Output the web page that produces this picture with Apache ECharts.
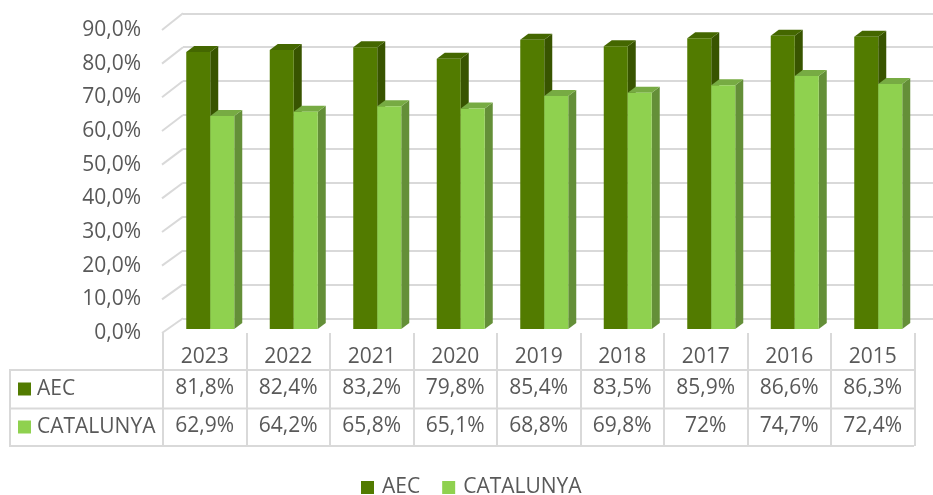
<!DOCTYPE html>
<html>
<head>
<meta charset="UTF-8"/>
<title>AEC - CATALUNYA</title>
<style>
    html, body { margin: 0; padding: 0; background: #fff; }
    #chart { width: 933px; height: 495px; }
</style>
</head>
<body>
<div id="chart"></div>
<script src="https://cdn.jsdelivr.net/npm/echarts@6/dist/echarts.min.js"></script>
<script>
    // data
    const years = ['2023', '2022', '2021', '2020', '2019', '2018', '2017', '2016', '2015'];
    const aec = [81.8, 82.4, 83.2, 79.8, 85.4, 83.5, 85.9, 86.6, 86.3];
    const catalunya = [62.9, 64.2, 65.8, 65.1, 68.8, 69.8, 72, 74.7, 72.4];
    const yTicks = [0, 10, 20, 30, 40, 50, 60, 70, 80, 90];
    const seriesNames = ['AEC', 'CATALUNYA'];

    const FONT = 'Open Sans';
    const FS = 21;
    const TXT = '#595959';
    const LINE = '#d9d9d9';
    // front, side, top
    const shades = [
        ['#527b00', '#385400', '#446700'],
        ['#8fd14f', '#648f38', '#77ab43']
    ];
    const BAR_W = 24, DX = 8, DY = 6;

    const fmtAxis = v => v.toFixed(1).replace('.', ',') + '%';
    const fmtCell = v => String(v).replace('.', ',') + '%';

    function barRender(k) {
        return function (params, api) {
            const base = api.coord([api.value(0), 0]);
            const top = api.coord([api.value(0), api.value(1)]);
            const x0 = base[0] + (k === 0 ? -BAR_W : 0);
            const x1 = x0 + BAR_W;
            const c = shades[k];
            return {
                type: 'group', children: [
                    {type: 'polygon', shape: {points: [[x1, top[1]], [x1 + DX, top[1] - DY], [x1 + DX, base[1] - DY], [x1, base[1]]]}, style: {fill: c[1]}},
                    {type: 'polygon', shape: {points: [[x0, top[1]], [x0 + DX, top[1] - DY], [x1 + DX, top[1] - DY], [x1, top[1]]]}, style: {fill: c[2]}},
                    {type: 'rect', shape: {x: x0, y: top[1], width: BAR_W, height: base[1] - top[1]}, style: {fill: c[0]}}
                ]
            };
        };
    }

    // slanted left-wall lines, from back wall to the front label plane
    function slantRender(params, api) {
        const v = api.value(1);
        const p = api.coord([0, v]);
        const x = params.coordSys.x;
        return {
            type: 'line',
            shape: {x1: x, y1: p[1], x2: x - 21, y2: p[1] + 14.7 + v * 0.022},
            style: {stroke: LINE, lineWidth: 2}
        };
    }

    // data table cells under each category
    function tableRender(params, api) {
        const i = api.value(0);
        const p = api.coord([i, 0]);
        const cell = (txt, dy) => ({
            type: 'text', x: p[0], y: p[1] + dy,
            style: {text: txt, fill: TXT, font: FS + 'px "' + FONT + '"', align: 'center', verticalAlign: 'middle'}
        });
        return {type: 'group', children: [cell(fmtCell(aec[i]), 55), cell(fmtCell(catalunya[i]), 93)]};
    }

    const tableLeft = [];
    [370, 408.5, 446].forEach(y => tableLeft.push({
        type: 'line', shape: {x1: 10, y1: y, x2: 914, y2: y}, style: {stroke: LINE, lineWidth: 2}, z: 1
    }));
    tableLeft.push({type: 'line', shape: {x1: 10, y1: 369, x2: 10, y2: 447}, style: {stroke: LINE, lineWidth: 2}});
    seriesNames.forEach((name, k) => {
        const cy = 389 + k * 38;
        tableLeft.push({type: 'rect', shape: {x: 18, y: cy - 6.5, width: 13, height: 13}, style: {fill: shades[k][0]}});
        tableLeft.push({
            type: 'text', x: 37, y: cy,
            style: {text: name, fill: TXT, font: FS + 'px "' + FONT + '"', verticalAlign: 'middle'}
        });
    });

    const hiddenCat = gi => ({
        type: 'category', gridIndex: gi, data: years, show: false
    });
    const hiddenVal = gi => ({
        type: 'value', gridIndex: gi, min: 0, max: 90, interval: 10, show: false
    });

    const chart = echarts.init(document.getElementById('chart'), null, {renderer: 'canvas'});
    chart.setOption({
        animation: false,
        textStyle: {fontFamily: FONT},
        grid: [
            {left: 183, right: 0, top: 13.3, bottom: 176.7, outerBoundsMode: 'none'},
            {left: 163, right: 18.5, top: 30, bottom: 162, outerBoundsMode: 'none'},
            {left: 168.5, right: 13, top: 24.3, bottom: 166, outerBoundsMode: 'none'}
        ],
        xAxis: [
            hiddenCat(0),
            {
                type: 'category', gridIndex: 1, data: years,
                axisLine: {show: false},
                axisTick: {show: true, interval: 0, length: 113, lineStyle: {color: LINE, width: 2}},
                axisLabel: {color: TXT, fontSize: FS, lineHeight: 20, margin: 14, fontFamily: FONT}
            },
            hiddenCat(2)
        ],
        yAxis: [
            {
                type: 'value', gridIndex: 0, min: 0, max: 90, interval: 10,
                axisLabel: {show: false}, axisLine: {show: false}, axisTick: {show: false},
                splitLine: {lineStyle: {color: LINE, width: 2}}
            },
            {
                type: 'value', gridIndex: 1, min: 0, max: 90, interval: 10,
                axisLine: {show: false}, axisTick: {show: false}, splitLine: {show: false},
                axisLabel: {color: TXT, fontSize: FS, margin: 22, fontFamily: FONT, formatter: fmtAxis}
            },
            hiddenVal(2)
        ],
        legend: {
            data: seriesNames,
            top: 477, left: 361, padding: 0,
            icon: 'rect', itemWidth: 13, itemHeight: 13, itemGap: 22,
            textStyle: {color: TXT, fontSize: FS, lineHeight: 20, fontFamily: FONT, padding: [0, 0, 0, 3]}
        },
        graphic: tableLeft,
        series: [
            {
                name: 'walls', type: 'custom', xAxisIndex: 0, yAxisIndex: 0,
                data: yTicks.map(v => [0, v]), renderItem: slantRender, silent: true, z: 1
            },
            {
                name: 'table', type: 'custom', xAxisIndex: 1, yAxisIndex: 1,
                data: years.map((y, i) => [i, 0]), renderItem: tableRender, silent: true, clip: false
            },
            {
                name: seriesNames[0], type: 'custom', xAxisIndex: 2, yAxisIndex: 2,
                itemStyle: {color: shades[0][0]},
                data: aec.map((v, i) => [i, v]), encode: {x: 0, y: 1}, renderItem: barRender(0), z: 3
            },
            {
                name: seriesNames[1], type: 'custom', xAxisIndex: 2, yAxisIndex: 2,
                itemStyle: {color: shades[1][0]},
                data: catalunya.map((v, i) => [i, v]), encode: {x: 0, y: 1}, renderItem: barRender(1), z: 4
            }
        ]
    });
</script>
</body>
</html>
